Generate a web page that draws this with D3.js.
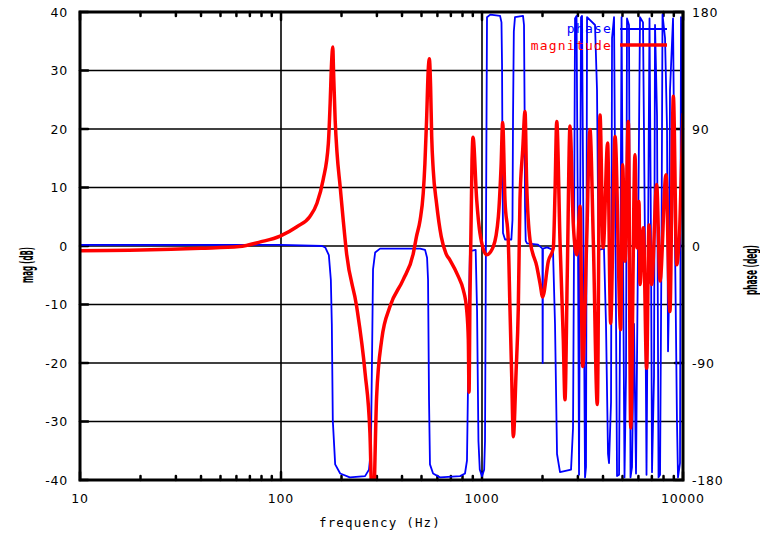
<!DOCTYPE html>
<html>
<head>
<meta charset="utf-8">
<script src="https://cdn.jsdelivr.net/npm/d3@7/dist/d3.min.js"></script>
<style>
  body { margin:0; background:#fff; }
  text { font-family: "DejaVu Sans", sans-serif; fill:#000; }
  .mono { font-family: "DejaVu Sans Mono", monospace; }
</style>
</head>
<body>
<script>
// magnitude curve (Hz, dB)
var magFreq = [10, 20, 40, 62, 79, 99, 120, 139, 151, 162, 172, 175.6, 178.5, 181, 182.5, 186, 190, 197, 204, 212,
  238, 262, 277, 286, 299, 317, 348, 405, 455, 472, 492, 510, 520, 530, 540, 547, 555, 562, 572, 594,
  627, 662, 693, 762, 807, 839, 855, 862, 871, 892, 902, 941, 977, 1054, 1138, 1206, 1244, 1267, 1301, 1351,
  1377, 1404, 1432, 1477, 1516, 1545, 1594, 1637, 1668, 1734, 1873, 1944, 2004, 2138, 2264, 2309, 2354, 2444, 2539, 2587,
  2656, 2741, 2847, 2959, 3075, 3169, 3317, 3445, 3580, 3747, 3864, 4009, 4217, 4365, 4592, 4898, 5012, 5143, 5346, 5495,
  5770, 5886, 6040, 6110, 6346, 6593, 6776, 6985, 7396, 7690, 8227, 8610, 8954, 9311, 10000];
var magDb = [-0.8, -0.7, -0.4, -0.1, 0.7, 1.7, 3.3, 5.0, 7.3, 11.3, 17.5, 24.4, 31.3, 34, 30, 21.5, 15.9, 10.1, 4.4, -1.3,
  -10.4, -21.7, -32, -48, -25.8, -16, -10.4, -5.8, -1.3, 1.6, 4.4, 9, 14.1, 21.5, 30, 32, 27.2, 18.7, 13, 7.3,
  1.6, -1.3, -2.4, -5.2, -7.5, -10.9, -16, -25, -9, 14.7, 18.6, 7.9, 2.2, -1.5, -0.1, 5, 13.6, 21.1, 7.9, 1,
  -10.4, -21.7, -32.6, -21.7, -10.4, 7.9, 16.4, 23, 10.7, 1, -3.5, -6.4, -8.7, -2.6, -0.3, 9.4, 21.3, 0.8, -16.2, -26.3,
  -4.9, 20.5, 3.6, -1.5, 6.8, -20.6, 0.8, 19.9, 0.8, -27.1, 22.4, -0.3, 17.6, -13.2, 18.7, -14.3, 13.9, -2.6, 21.3, -31.1,
  15.6, -0.3, 7.6, -6.6, 3.1, -20.9, 3.6, -6.6, 10.5, -6, 12.2, -11.2, 25.6, -3.2, 22.7];

// phase curve (Hz, deg)
var phaseFreq = [10, 100, 160, 166, 173, 177, 179, 181, 186, 197, 220, 262, 274, 280, 284, 287, 294, 311, 455, 492,
  521, 533, 539, 545, 551, 571, 618, 778, 823, 842, 851, 862, 871, 930, 945, 960, 975, 1000, 1025, 1035,
  1059, 1100, 1230, 1250, 1258, 1265, 1272, 1302, 1400, 1418, 1427, 1440, 1459, 1600, 1618, 1630, 1637, 1650, 1675, 1900,
  1998, 2004, 2010, 2106, 2255, 2308, 2362, 2444, 2773, 2837, 2870, 2903, 2953, 3004, 3039, 3074, 3109, 3145, 3199, 3255,
  3292, 3331, 3650, 3734, 3798, 4045, 4139, 4236, 4285, 4385, 4436, 4539, 4618, 4697, 4807, 4891, 4947, 5029, 5117, 5205,
  5265, 5387, 5481, 5576, 5705, 5838, 5973, 6111, 6324, 6471, 6584, 6698, 6814, 6932, 7012, 7175, 7258, 7427, 7555, 7688,
  7817, 7908, 8139, 8327, 8424, 8519, 8618, 8920, 9128, 9335, 9444, 9663, 9773, 10000];
var phaseDeg = [0.8, 0.8, 0, -1, -7, -26, -60, -134, -168, -175, -178, -177, -172, -157, -80, -18, -5, -2, -2, -2,
  -3, -9, -26, -118, -168, -175, -178, -177, -175, -165, -113, -40, -4, -3, -50, -150, -172, -177, -172, -150,
  176, 178, 177, 172, 140, 60, 10, 5, 5, 20, 100, 165, 176, 177, 170, 100, 30, 4, 2, 1,
  -2, -90, -2, -1, -3, -60, -160, -174, -172, -140, 0, 175, 177, 0, -176, 0, 176, 177, 0, -178,
  -170, 176, 170, 120, -3, -2, -60, -160, -167, -120, 160, 176, 0, -177, -176, 0, 176, 0, -178, -100,
  175, 170, -178, -170, -60, -175, 0, 176, 172, 0, -176, 0, 175, 0, -174, -100, 170, 100, -178, -176,
  0, 178, 160, 91, -81, -40, 120, 175, 0, -136, -178, -167, 176, 60];

var freqTicks = [10, 100, 1000, 10000];
var magTicks = [-40, -30, -20, -10, 0, 10, 20, 30, 40];
var phaseTicks = [-180, -90, 0, 90, 180];

var width = 760, height = 538;
var pLeft = 80, pRight = 683, pTop = 12, pBottom = 480;

var svg = d3.select("body").append("svg")
  .attr("width", width)
  .attr("height", height);

var x = d3.scaleLog().domain([10, 10000]).range([pLeft, pRight]);
var yMag = d3.scaleLinear().domain([-40, 40]).range([pBottom, pTop]);
var yPh = d3.scaleLinear().domain([-180, 180]).range([pBottom, pTop]);

svg.append("clipPath").attr("id", "plot")
  .append("rect").attr("x", pLeft).attr("y", pTop - 1)
  .attr("width", pRight - pLeft).attr("height", pBottom - pTop + 2);

// grid
var grid = svg.append("g").attr("stroke", "#000").attr("stroke-width", 1.6);
grid.selectAll(".h").data(magTicks.slice(1, -1)).enter().append("line")
  .attr("x1", pLeft).attr("x2", pRight)
  .attr("y1", function(d) { return yMag(d); }).attr("y2", function(d) { return yMag(d); });
grid.selectAll(".v").data(freqTicks.slice(1, -1)).enter().append("line")
  .attr("y1", pTop).attr("y2", pBottom)
  .attr("x1", function(d) { return x(d); }).attr("x2", function(d) { return x(d); });

// minor ticks on top and bottom
var minor = x.ticks().filter(function(d) { return freqTicks.indexOf(d) < 0; });
var ticks = svg.append("g").attr("stroke", "#000").attr("stroke-width", 2.5).attr("stroke-linecap", "round");
minor.forEach(function(d) {
  ticks.append("line").attr("x1", x(d)).attr("x2", x(d)).attr("y1", pBottom).attr("y2", pBottom - 4);
  ticks.append("line").attr("x1", x(d)).attr("x2", x(d)).attr("y1", pTop).attr("y2", pTop + 4);
});
magTicks.forEach(function(d) {
  ticks.append("line").attr("x1", pLeft).attr("x2", pLeft + 8).attr("y1", yMag(d)).attr("y2", yMag(d));
});
phaseTicks.forEach(function(d) {
  ticks.append("line").attr("x1", pRight).attr("x2", pRight - 8).attr("y1", yPh(d)).attr("y2", yPh(d));
});
freqTicks.forEach(function(d) {
  ticks.append("line").attr("x1", x(d)).attr("x2", x(d)).attr("y1", pBottom).attr("y2", pBottom - 8);
  ticks.append("line").attr("x1", x(d)).attr("x2", x(d)).attr("y1", pTop).attr("y2", pTop + 8);
});

// tick labels
svg.selectAll(".ml").data(magTicks).enter().append("text")
  .attr("x", 68).attr("y", function(d) { return yMag(d); })
  .attr("dy", "0.36em").attr("text-anchor", "end")
  .style("font-size", "12.5px").style("letter-spacing", "0.8px")
  .text(function(d) { return d; });
svg.selectAll(".pl").data(phaseTicks).enter().append("text")
  .attr("x", 692).attr("y", function(d) { return yPh(d); })
  .attr("dy", "0.36em")
  .style("font-size", "12.5px").style("letter-spacing", "0.8px")
  .text(function(d) { return d; });
svg.selectAll(".fl").data(freqTicks).enter().append("text")
  .attr("x", function(d) { return x(d); }).attr("y", 503)
  .attr("text-anchor", "middle")
  .style("font-size", "12.5px").style("letter-spacing", "0.8px")
  .text(function(d) { return d; });

// axis titles
svg.append("text").attr("class", "mono")
  .attr("x", 380).attr("y", 527).attr("text-anchor", "middle")
  .style("font-size", "12.5px").style("letter-spacing", "1.2px")
  .text("frequency (Hz)");
svg.append("text")
  .attr("transform", "translate(33,265) rotate(-90)")
  .attr("text-anchor", "middle")
  .attr("textLength", 36).attr("lengthAdjust", "spacingAndGlyphs")
  .style("font-size", "17px").style("font-weight", "bold")
  .text("mag (dB)");
svg.append("text")
  .attr("transform", "translate(757,270) rotate(-90)")
  .attr("text-anchor", "middle")
  .attr("textLength", 50).attr("lengthAdjust", "spacingAndGlyphs")
  .style("font-size", "17px").style("font-weight", "bold")
  .text("phase (deg)");

var magLine = d3.line()
  .x(function(d, i) { return x(magFreq[i]); })
  .y(function(d) { return yMag(d); })
  .curve(d3.curveMonotoneX);
var phLine = d3.line()
  .x(function(d, i) { return x(phaseFreq[i]); })
  .y(function(d) { return yPh(d); });

// phase key + curve
svg.append("text").attr("class", "mono")
  .attr("x", 612).attr("y", 33).attr("text-anchor", "end")
  .style("font-size", "13px").style("letter-spacing", "1.2px").style("fill", "#0000ff")
  .text("phase");
svg.append("line").attr("x1", 620).attr("x2", 667).attr("y1", 29).attr("y2", 29)
  .attr("stroke", "#0000ff").attr("stroke-width", 1.8);
svg.append("path").datum(phaseDeg)
  .attr("clip-path", "url(#plot)")
  .attr("fill", "none").attr("stroke", "#0000ff").attr("stroke-width", 1.8)
  .attr("stroke-linejoin", "round")
  .attr("d", phLine);

// magnitude key + curve
svg.append("text").attr("class", "mono")
  .attr("x", 612).attr("y", 50).attr("text-anchor", "end")
  .style("font-size", "13px").style("letter-spacing", "1.2px").style("fill", "#ff0000")
  .text("magnitude");
svg.append("line").attr("x1", 620).attr("x2", 667).attr("y1", 45).attr("y2", 45)
  .attr("stroke", "#ff0000").attr("stroke-width", 3.5);
svg.append("path").datum(magDb)
  .attr("clip-path", "url(#plot)")
  .attr("fill", "none").attr("stroke", "#ff0000").attr("stroke-width", 3.5)
  .attr("stroke-linejoin", "round")
  .attr("d", magLine);

// frame
svg.append("rect").attr("x", pLeft).attr("y", pTop)
  .attr("width", pRight - pLeft).attr("height", pBottom - pTop)
  .attr("fill", "none").attr("stroke", "#000").attr("stroke-width", 3);
</script>
</body>
</html>
